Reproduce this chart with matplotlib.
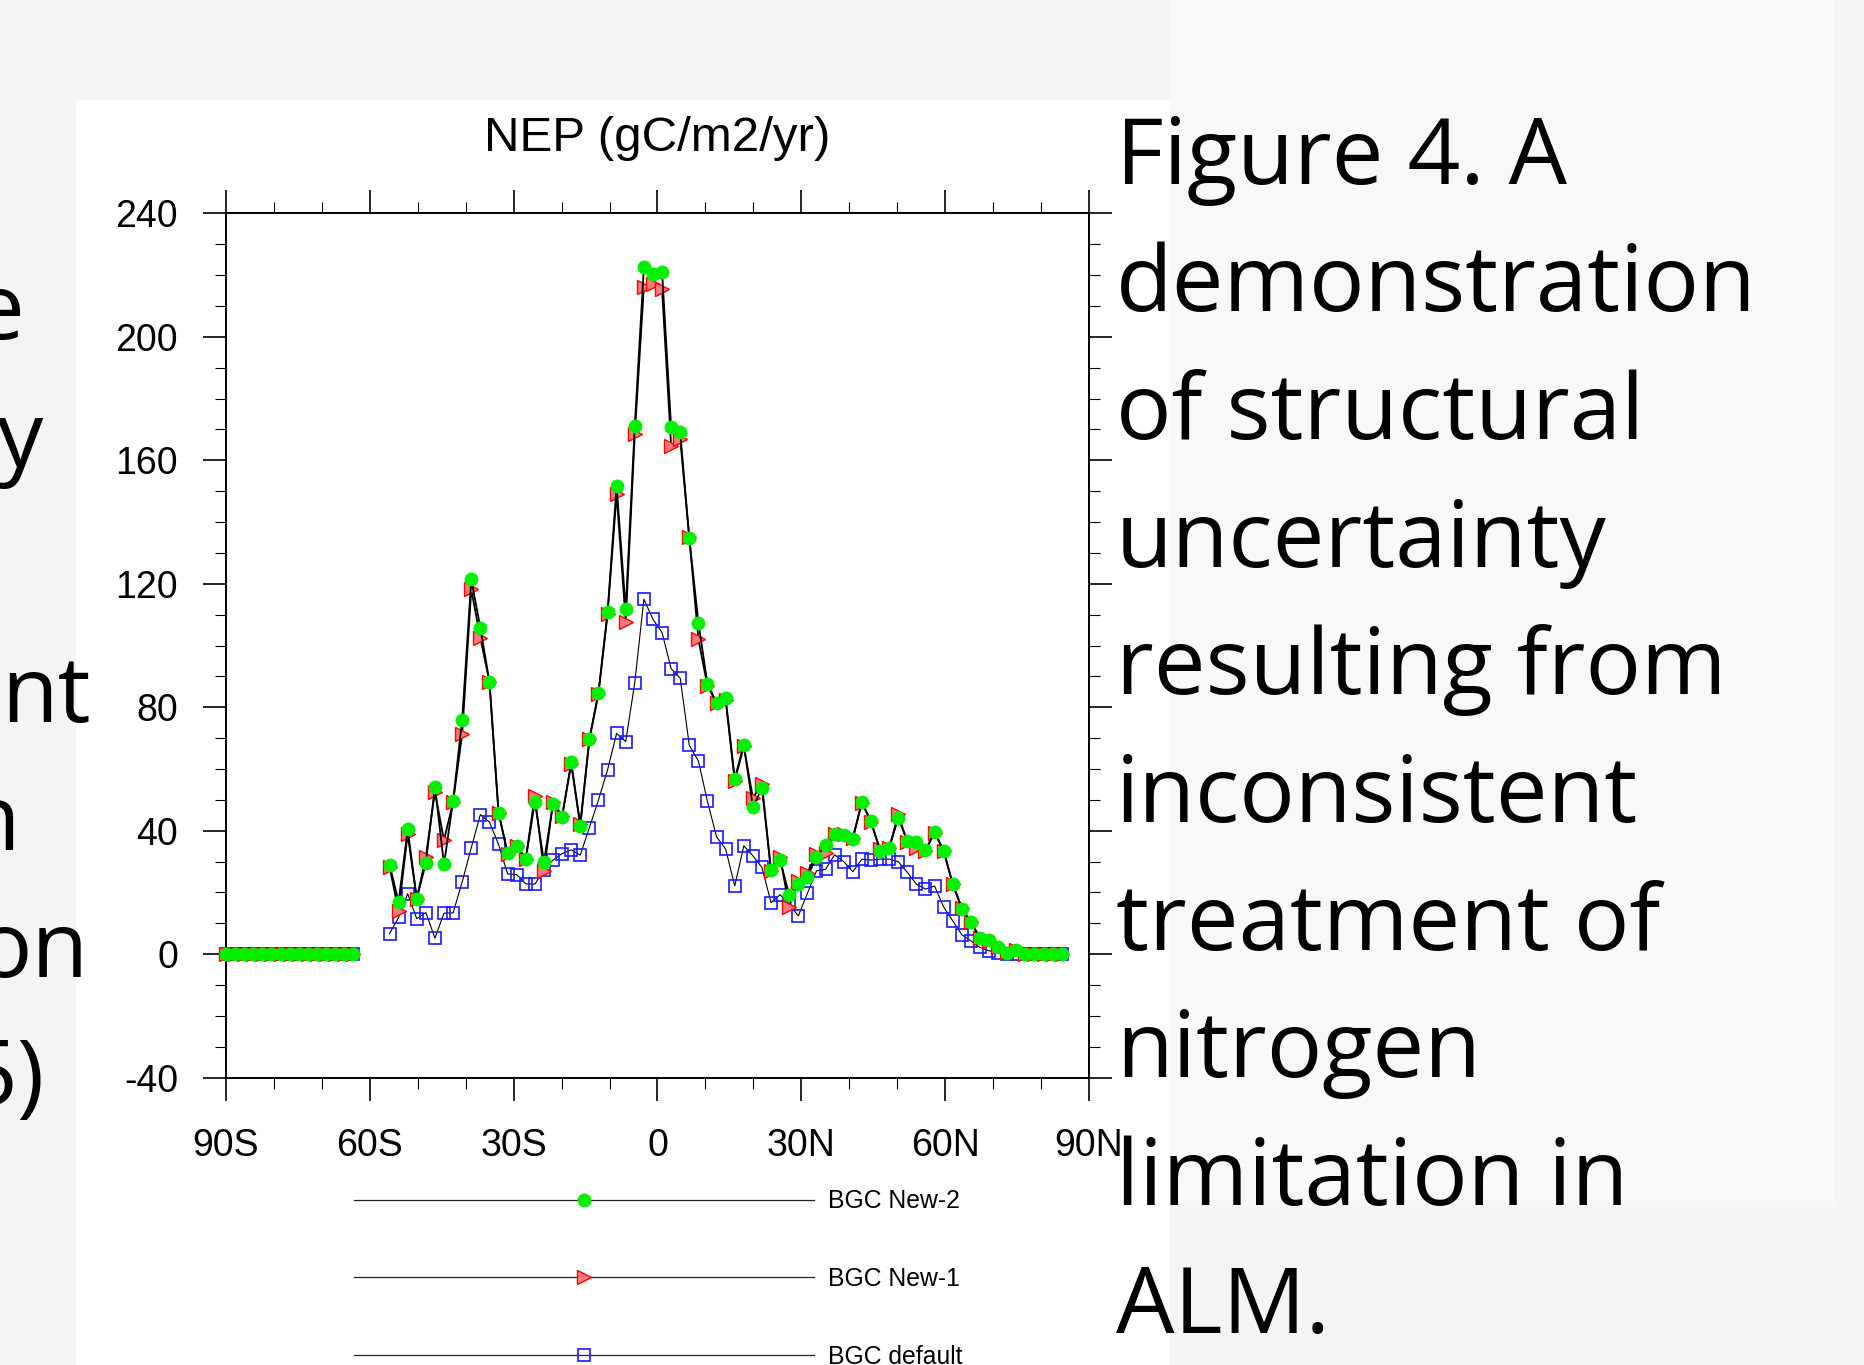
import numpy as np
import matplotlib
matplotlib.use("Agg")
import matplotlib.pyplot as plt
from matplotlib.ticker import MultipleLocator, FixedLocator
from matplotlib.lines import Line2D
from matplotlib.patches import Rectangle

plt.rcParams["axes.unicode_minus"] = False
nan = np.nan

# ---------------- data (latitude grid of the model, land points only) ----------------
lat = [
    -90.00, -88.11, -86.21, -84.32, -82.42, -80.53, -78.63, -76.74, -74.84, -72.95,
    -71.05, -69.16, -67.26, -65.37, -63.47, -61.58, -59.68, -57.79, -55.89, -54.00,
    -52.11, -50.21, -48.32, -46.42, -44.53, -42.63, -40.74, -38.84, -36.95, -35.05,
    -33.16, -31.26, -29.37, -27.47, -25.58, -23.68, -21.79, -19.89, -18.00, -16.11,
    -14.21, -12.32, -10.42, -8.53, -6.63, -4.74, -2.84, -0.95, 0.95, 2.84,
    4.74, 6.63, 8.53, 10.42, 12.32, 14.21, 16.11, 18.00, 19.89, 21.79,
    23.68, 25.58, 27.47, 29.37, 31.26, 33.16, 35.05, 36.95, 38.84, 40.74,
    42.63, 44.53, 46.42, 48.32, 50.21, 52.11, 54.00, 55.89, 57.79, 59.68,
    61.58, 63.47, 65.37, 67.26, 69.16, 71.05, 72.95, 74.84, 76.74, 78.63,
    80.53, 82.42, 84.32,
]

nep_new2 = [
    0, 0, 0, 0, 0, 0, 0, 0, 0, 0,
    0, 0, 0, 0, 0, nan, nan, nan, 29.0, 17.0,
    40.5, 18.0, 29.5, 54.3, 29.1, 49.7, 76.0, 121.4, 105.8, 88.2,
    45.9, 32.9, 35.1, 30.8, 49.4, 30.0, 48.6, 44.5, 62.3, 41.5,
    69.6, 84.6, 110.7, 151.7, 111.7, 171.1, 222.6, 220.3, 221.1, 170.8,
    169.0, 134.7, 107.4, 87.6, 81.5, 82.9, 56.9, 67.9, 47.7, 53.7,
    27.2, 30.4, 19.2, 22.9, 25.0, 31.5, 35.3, 38.9, 38.6, 37.3,
    49.3, 43.0, 33.5, 34.3, 44.1, 36.7, 36.2, 33.7, 39.6, 33.5,
    22.7, 14.8, 10.3, 5.2, 4.5, 2.2, 0.5, 1.3, 0, 0,
    0, 0, 0,
]

nep_new1 = [
    0, 0, 0, 0, 0, 0, 0, 0, 0, 0,
    0, 0, 0, 0, 0, nan, nan, nan, 28.3, 13.9,
    38.9, 18.0, 31.5, 52.6, 36.9, 49.4, 71.3, 118.2, 102.4, 88.3,
    45.9, 32.4, 35.1, 31.0, 51.3, 27.0, 49.4, 44.8, 61.5, 42.1,
    69.6, 84.4, 110.1, 149.0, 107.7, 168.4, 216.2, 217.0, 215.4, 164.7,
    166.8, 135.0, 102.0, 86.9, 81.5, 82.5, 56.1, 67.3, 50.7, 55.1,
    26.8, 31.4, 15.3, 23.8, 26.4, 32.4, 32.9, 38.9, 38.9, 37.8,
    49.1, 42.7, 34.0, 34.5, 45.3, 36.2, 34.5, 33.5, 39.4, 33.5,
    22.7, 15.1, 10.3, 5.4, 4.3, 2.4, 0.8, 1.3, 0, 0,
    0, 0, 0,
]

nep_default = [
    0, 0, 0, 0, 0, 0, 0, 0, 0, 0,
    0, 0, 0, 0, 0, nan, nan, nan, 6.7, 11.9,
    19.6, 11.5, 13.5, 5.2, 13.3, 13.4, 23.4, 34.5, 45.2, 42.8,
    35.6, 26.0, 25.8, 22.8, 22.7, 27.3, 30.5, 32.6, 33.8, 32.1,
    41.0, 49.9, 59.7, 71.5, 68.9, 88.0, 115.0, 108.5, 104.2, 92.5,
    89.4, 67.7, 62.6, 49.5, 38.0, 34.1, 22.1, 35.1, 31.9, 28.1,
    16.7, 19.3, 16.2, 12.4, 19.7, 27.0, 27.5, 32.2, 30.0, 26.7,
    30.8, 30.5, 30.8, 30.8, 30.0, 26.5, 22.7, 21.1, 22.1, 15.3,
    10.8, 6.3, 4.3, 2.2, 1.1, 0.5, 0, 0, 0, 0,
    0, 0, 0,
]

series_labels = ["BGC New-2", "BGC New-1", "BGC default"]
x_ticks = [-90, -60, -30, 0, 30, 60, 90]
x_ticklabels = ["90S", "60S", "30S", "0", "30N", "60N", "90N"]
y_ticks = [-40, 0, 40, 80, 120, 160, 200, 240]
title = "NEP (gC/m2/yr)"

caption_lines = ["Figure 4. A", "demonstration", "of structural", "uncertainty",
                 "resulting from", "inconsistent", "treatment of", "nitrogen",
                 "limitation in", "ALM."]
left_fragments = ["e", "y", "nt", "n", "on", "5)"]

# ---------------- figure ----------------
W, H = 1865, 1365
fig = plt.figure(figsize=(W / 100, H / 100), dpi=100)
fig.patch.set_facecolor("#f3f4f6")

def fx(px):
    return px / W

def fy(py):
    return 1 - py / H

# slide background pieces
fig.add_artist(Rectangle((fx(1170), fy(1207)), fx(1835) - fx(1170), fy(0) - fy(1207),
                         transform=fig.transFigure, facecolor="#f8f8fa", edgecolor="none", zorder=0))
fig.add_artist(Rectangle((fx(76), 0), fx(1170) - fx(76), fy(100),
                         transform=fig.transFigure, facecolor="white", edgecolor="none", zorder=0))

# ---------------- axes ----------------
x0, x1 = 226, 1089
ytop, ybot = 213.3, 1077.7
ax = fig.add_axes([fx(x0), fy(ybot), fx(x1) - fx(x0), (ybot - ytop) / H])
ax.set_facecolor("white")
ax.set_xlim(-90, 90)
ax.set_ylim(-40, 240)

lat_a = np.array(lat)
ax.plot(lat_a, nep_default, color="black", lw=0.8, marker="s", ms=8.6,
        mfc="none", mec="#1a1aff", mew=1.2, zorder=3, clip_on=False)
ax.plot(lat_a, nep_new1, color="black", lw=1.3, marker=">", ms=9.5,
        mfc="#ff7a7a", mec="#ff0000", mew=1.0, zorder=4, clip_on=False)
ax.plot(lat_a, nep_new2, color="black", lw=1.3, marker="o", ms=10,
        mfc="#00f000", mec="#00f000", mew=0, zorder=5, clip_on=False)

for s in ax.spines.values():
    s.set_linewidth(1.4)
ax.xaxis.set_major_locator(FixedLocator(x_ticks))
ax.xaxis.set_minor_locator(MultipleLocator(10))
ax.yaxis.set_major_locator(FixedLocator(y_ticks))
ax.yaxis.set_minor_locator(MultipleLocator(10))
ax.set_xticklabels(x_ticklabels)
ax.tick_params(which="both", direction="out", top=True, right=True)
ax.tick_params(which="major", length=16.5, width=1.2)
ax.tick_params(which="minor", length=8, width=0.8)
ax.tick_params(axis="x", which="major", pad=20, labelsize=27)
ax.tick_params(axis="y", which="major", pad=18, labelsize=27)
for lab in ax.get_xticklabels() + ax.get_yticklabels():
    lab.set_fontfamily("Liberation Sans")

fig.text(fx(657.5), fy(151), title, ha="center", va="baseline",
         fontsize=35.5, family="Liberation Sans")

# ---------------- legend ----------------
handles = [
    Line2D([], [], color="#222222", lw=0.9, marker="o", ms=10, mfc="#00f000", mec="#00f000", mew=0),
    Line2D([], [], color="#222222", lw=0.9, marker=">", ms=9.5, mfc="#ff7a7a", mec="#ff0000", mew=1.0),
    Line2D([], [], color="#222222", lw=0.9, marker="s", ms=8.6, mfc="none", mec="#1a1aff", mew=1.2),
]
leg = ax.legend(handles, series_labels, loc="upper left",
                bbox_to_anchor=(fx(354.5), fy(1189.5)), bbox_transform=fig.transFigure,
                frameon=False, numpoints=1, handlelength=18.6, handletextpad=0.57,
                labelspacing=2.17, borderpad=0, borderaxespad=0,
                prop={"family": "Liberation Sans", "size": 17.8})

# ---------------- caption text ----------------
for k, line in enumerate(caption_lines):
    fig.text(fx(1116), fy(183.5 + k * 127.7), line, ha="left", va="baseline",
             fontsize=66.5, family="Open Sans", color="black")

frag_right = [25, 43, 91, 20, 89, 44]
frag_base = [339, 466.7, 722, 849.8, 977.5, 1105]
for t, xr, yb in zip(left_fragments, frag_right, frag_base):
    fig.text(fx(xr), fy(yb), t, ha="right", va="baseline",
             fontsize=66.5, family="Open Sans", color="black")

fig.savefig("out.png", dpi=100, facecolor=fig.get_facecolor())
